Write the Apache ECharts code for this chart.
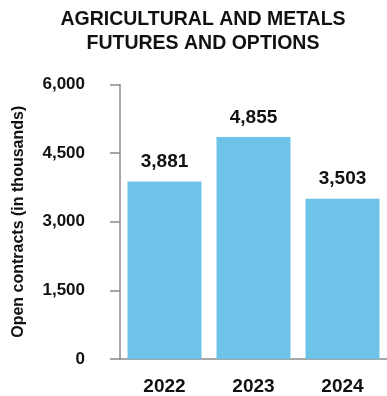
<!DOCTYPE html>
<html>
<head>
<meta charset="utf-8">
<script src="https://cdn.jsdelivr.net/npm/echarts@6/dist/echarts.min.js"></script>
<style>html,body{margin:0;padding:0;background:#fff}#c{width:387px;height:396px}</style>
</head>
<body>
<div id="c"></div>
<script>
var titleLines = ['AGRICULTURAL AND METALS', 'FUTURES AND OPTIONS'];
var categories = ['2022', '2023', '2024'];
var values = [3881, 4855, 3503];
var yTicks = [0, 1500, 3000, 4500, 6000];
var yAxisTitle = 'Open contracts (in thousands)';

var FONT = '"Liberation Sans", Arial, sans-serif';
var chart = echarts.init(document.getElementById('c'));
function fmt(v){ return v.toString().replace(/\B(?=(\d{3})+(?!\d))/g, ','); }
chart.setOption({
  animation: false,
  title: {
    text: titleLines.join('\n'),
    left: 198, top: 3, textAlign: 'center',
    textStyle: { fontFamily: FONT, fontWeight: 'bold', fontSize: 19.5, lineHeight: 24, color: '#111' }
  },
  grid: { left: 120, right: -6, top: 84.5, bottom: 35.5 },
  xAxis: {
    type: 'category', data: categories,
    axisLine: { lineStyle: { color: '#8a8a8a', width: 1.5 } },
    axisTick: { show: false },
    axisLabel: { margin: 18, fontFamily: FONT, fontWeight: 'bold', fontSize: 19, color: '#111' }
  },
  yAxis: {
    type: 'value', min: yTicks[0], max: yTicks[yTicks.length - 1], interval: yTicks[1] - yTicks[0],
    name: yAxisTitle, nameLocation: 'middle', nameGap: 93, nameRotate: 90,
    nameTextStyle: { fontFamily: FONT, fontWeight: 'bold', fontSize: 16, color: '#111' },
    axisLine: { show: true, lineStyle: { color: '#8a8a8a', width: 1.5 } },
    axisTick: { show: true, length: 10, lineStyle: { color: '#8a8a8a', width: 1.5 } },
    splitLine: { show: false },
    axisLabel: { margin: 35, fontFamily: FONT, fontWeight: 'bold', fontSize: 17, color: '#111', formatter: fmt }
  },
  series: [{
    type: 'bar', data: values, barWidth: 74,
    itemStyle: { color: '#6EC3E8' },
    label: { show: true, position: 'top', distance: 10, fontFamily: FONT, fontWeight: 'bold', fontSize: 19, color: '#111', formatter: function(p){ return fmt(p.value); } }
  }]
});
</script>
</body>
</html>
